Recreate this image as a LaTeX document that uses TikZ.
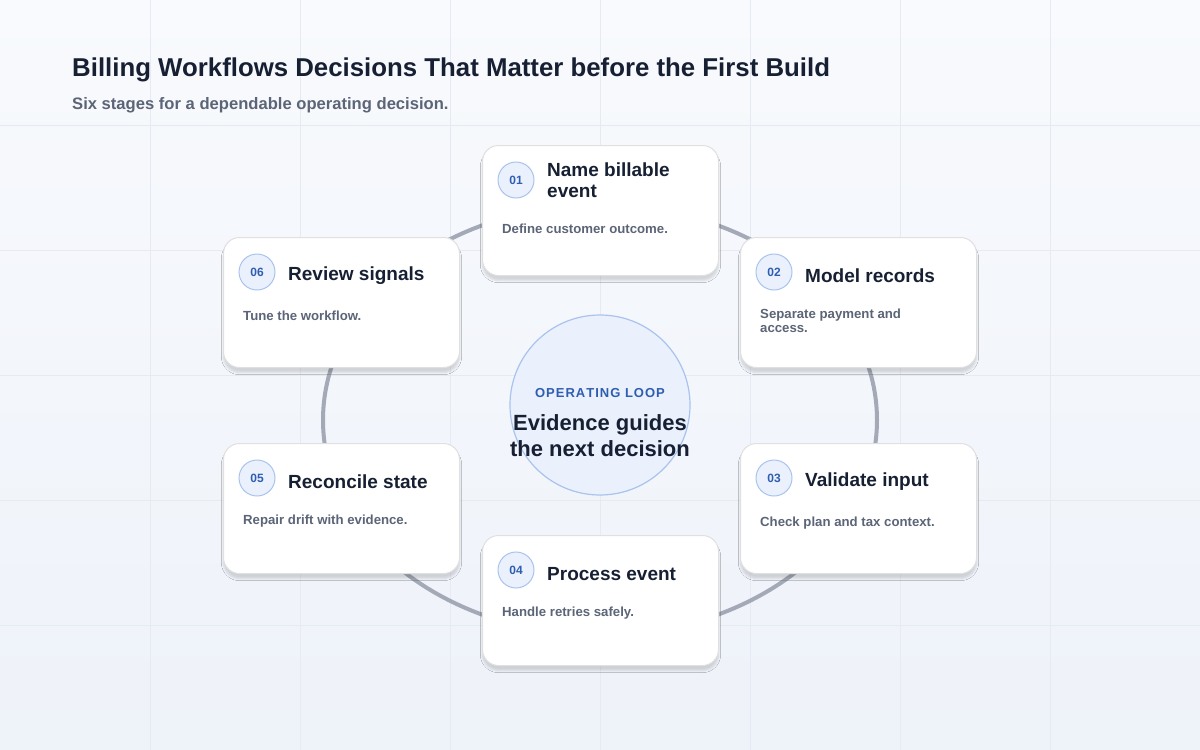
\documentclass[tikz,border=0pt]{standalone}
\usepackage{fontspec}
\setmainfont{Liberation Sans}
\usetikzlibrary{shadows.blur}
\definecolor{ink}{HTML}{172033}
\definecolor{muted}{HTML}{5B6577}
\definecolor{accent}{HTML}{2F5DB0}
\definecolor{ring}{HTML}{A3A9B6}
\definecolor{badge}{HTML}{EAF1FD}
\definecolor{badgeline}{HTML}{A9C3EE}
\definecolor{bgtop}{HTML}{F8FAFD}
\definecolor{bgbot}{HTML}{EEF2F9}
\definecolor{gridc}{HTML}{E6EBF3}
\tikzset{
  card/.style={draw=black!12, line width=1pt, fill=white, rounded corners=16pt,
    minimum width=236pt, minimum height=130pt, blur shadow={shadow xshift=0pt, shadow yshift=-5pt, shadow opacity=14}},
  num/.style={circle, draw=badgeline, fill=badge, line width=1pt, minimum size=36pt, inner sep=0pt,
    text=accent, font=\fontsize{12}{12}\selectfont\bfseries},
  ttl/.style={anchor=west, text=ink, align=left, font=\fontsize{19}{21}\selectfont\bfseries, inner sep=0pt},
  desc/.style={anchor=north west, text=muted, align=left, font=\fontsize{13.2}{13.5}\selectfont\bfseries, inner sep=0pt}
}
\newcommand{\stage}[7][-39]{% title shift, name, left, top, number, title, description
  \node[card, anchor=north west] (#2) at (#3,-#4) {};
  \node[num] (#2n) at ([xshift=34pt,yshift=-35pt]#2.north west) {#5};
  \node[ttl] (#2t) at ([xshift=65pt,yshift=#1pt]#2.north west) {#6};
  \node[desc] (#2d) at ([xshift=-45pt,yshift=-26pt]#2t.south west) {#7};
}
\begin{document}
\begin{tikzpicture}[x=1pt,y=1pt]
\shade[top color=bgtop, bottom color=bgbot] (0,0) rectangle (1200,-750);
\useasboundingbox (0,0) rectangle (1200,-750);
\foreach \x in {150,300,...,1050}{
    \draw[gridc, line width=0.8pt] (\x,0) -- (\x,-750);
}
\foreach \y in {125,250,...,625}{
    \draw[gridc, line width=0.8pt] (0,-\y) -- (1200,-\y);
}
\node[anchor=west, inner sep=0pt, text=ink, font=\fontsize{25.8}{28}\selectfont\bfseries] (title) at (72,-70) {Billing Workflows Decisions That Matter before the First Build};
\node[anchor=west, inner sep=0pt, text=muted, font=\fontsize{16.6}{18}\selectfont\bfseries] (sub) at (72,-105) {Six stages for a dependable operating decision.};

\draw[ring, line width=4pt] (600,-420) ellipse [x radius=277, y radius=215];
\node[circle, draw=badgeline, fill=badge, line width=1.2pt, minimum size=180pt] (hub) at (600,-405) {};
\node[text=accent, font=\fontsize{13}{13}\selectfont\bfseries] (hubk) at (600,-393) {O\kern1ptP\kern1ptE\kern1ptR\kern1ptA\kern1ptT\kern1ptI\kern1ptN\kern1ptG\ \kern1ptL\kern1ptO\kern1ptO\kern1ptP};
\node[text=ink, align=center, font=\fontsize{22}{26}\selectfont\bfseries] (hubt) at (600,-436) {Evidence guides\\the next decision};

\stage[-35]{s1}{482}{145}{01}{Name billable\\event}{Define customer outcome.}
\stage{s2}{740}{237}{02}{Model records}{Separate payment and\\access.}
\stage{s3}{740}{443}{03}{Validate input}{Check plan and tax context.}
\stage{s4}{482}{535}{04}{Process event}{Handle retries safely.}
\stage{s5}{223}{443}{05}{Reconcile state}{Repair drift with evidence.}
\stage{s6}{223}{237}{06}{Review signals}{Tune the workflow.}
\end{tikzpicture}
\end{document}
